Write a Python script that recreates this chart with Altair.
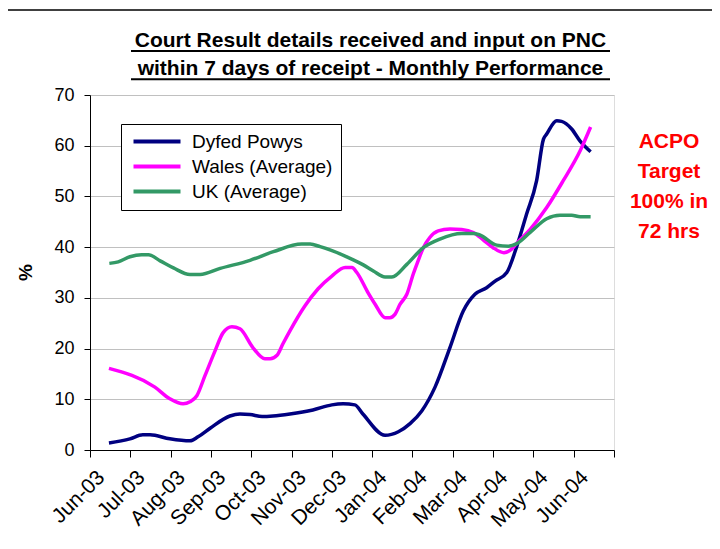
import json
import altair as alt
import pandas as pd

# ---------------- data ----------------
month_labels = ["Jun-03", "Jul-03", "Aug-03", "Sep-03", "Oct-03", "Nov-03", "Dec-03",
                "Jan-04", "Feb-04", "Mar-04", "Apr-04", "May-04", "Jun-04"]

series_names = ["Dyfed Powys", "Wales (Average)", "UK (Average)"]
series_colors = ["#000080", "#FF00FF", "#339966"]

# x = months since 1 Jun 2003, y = %
dp_x = [0.47, 0.99, 1.31, 1.49, 1.98, 2.48, 2.68, 2.98, 3.47, 3.72, 3.97, 4.27, 4.54, 4.96,
        5.53, 6.00, 6.28, 6.57, 6.77, 7.32, 7.65, 7.94, 8.23, 8.56, 8.93, 9.26, 9.55, 9.84,
        10.05, 10.34, 10.59, 10.83, 11.08, 11.25, 11.33, 11.58, 11.70, 11.95, 12.16, 12.42]
dp_y = [1.4, 2.2, 3.0, 3.0, 2.2, 1.8, 2.6, 4.3, 6.7, 7.1, 7.0, 6.6, 6.7, 7.1,
        7.9, 8.9, 9.1, 8.9, 7.1, 2.9, 3.6, 5.2, 7.7, 12.4, 20.2, 27.4, 30.7, 32.0,
        33.3, 35.0, 40.2, 46.5, 53.1, 61.3, 62.3, 64.9, 64.8, 63.3, 60.9, 58.8]

wales_x = [0.47, 1.61, 1.98, 2.31, 2.48, 2.65, 2.85, 3.10, 3.30, 3.52, 3.72, 4.04, 4.34, 4.47,
           4.64, 4.79, 4.96, 5.33, 5.66, 6.00, 6.33, 6.50, 6.62, 6.90, 7.07, 7.32, 7.44, 7.57,
           7.69, 7.86, 8.02, 8.14, 8.27, 8.43, 8.64, 8.93, 9.22, 9.51, 9.76, 10.00, 10.27,
           10.46, 10.59, 10.92, 11.33, 11.74, 12.16, 12.42]
wales_y = [16.1, 12.4, 10.1, 9.1, 9.5, 10.7, 14.6, 19.5, 23.1, 24.3, 23.9, 20.2, 18.0, 18.0,
           18.7, 21.0, 23.5, 28.4, 31.8, 34.3, 36.0, 36.0, 35.0, 31.0, 28.8, 26.1, 26.1, 26.8,
           28.7, 30.7, 34.7, 37.3, 39.9, 41.9, 43.2, 43.6, 43.5, 42.9, 41.4, 39.9, 38.9,
           39.6, 40.8, 43.5, 47.8, 53.1, 59.0, 63.7]

uk_x = [0.48, 0.70, 0.99, 1.28, 1.45, 1.74, 2.07, 2.48, 2.73, 3.23, 3.97, 4.55, 5.25, 5.46,
        5.71, 6.37, 6.78, 7.03, 7.32, 7.49, 7.86, 8.27, 8.68, 9.22, 9.51, 9.67, 10.09, 10.38,
        10.59, 10.92, 11.33, 11.66, 11.95, 12.16, 12.42]
uk_y = [36.8, 37.1, 38.1, 38.5, 38.5, 37.3, 35.9, 34.6, 34.6, 35.8, 37.4, 39.1, 40.6, 40.6,
        40.1, 38.1, 36.5, 35.3, 34.1, 34.1, 36.6, 39.9, 41.6, 42.7, 42.7, 42.4, 40.4, 40.2,
        40.7, 42.9, 45.6, 46.3, 46.3, 46.0, 46.0]

title_lines = ["Court Result details received and input on PNC",
               "within 7 days of receipt - Monthly Performance"]
note_lines = ["ACPO", "Target", "100% in", "72 hrs"]

# ---------------- build table ----------------
rows = []
for name, xs, ys in zip(series_names, [dp_x, wales_x, uk_x], [dp_y, wales_y, uk_y]):
    for i, (xv, yv) in enumerate(zip(xs, ys)):
        rows.append({"series": name, "month": xv, "pct": yv, "order": i})
df = pd.DataFrame(rows)
one = pd.DataFrame({"k": [0]})

FONT = "Liberation Sans"
W, H = 524, 355

label_expr = "datum.value < %d ? %s[datum.value] : ''" % (len(month_labels), json.dumps(month_labels))

lines = alt.Chart(df).mark_line(strokeWidth=3.5, interpolate="monotone").encode(
    x=alt.X("month:Q",
            scale=alt.Scale(domain=[0, len(month_labels)], nice=False, zero=False),
            axis=alt.Axis(values=list(range(len(month_labels) + 1)), labelExpr=label_expr,
                          labelAngle=315, labelAlign="right", labelBaseline="middle",
                          labelFontSize=21, labelFont=FONT, labelColor="#000000",
                          labelOverlap=False, labelFlush=False, labelPadding=17, labelOffset=11,
                          tickSize=7, tickColor="#000000", domainColor="#000000",
                          grid=False, title=None)),
    y=alt.Y("pct:Q",
            scale=alt.Scale(domain=[0, 70], nice=False),
            axis=alt.Axis(values=list(range(0, 71, 10)), labelFontSize=18, labelFont=FONT,
                          labelColor="#000000", labelPadding=10, tickSize=6,
                          tickColor="#000000", domainColor="#000000",
                          grid=True, gridColor="#c0c0c0",
                          title="%", titleFont=FONT, titleFontSize=19, titleFontWeight="bold",
                          titleAngle=270, titleX=-65, titleY=177, titleAlign="center",
                          titleBaseline="middle", titleColor="#000000")),
    color=alt.Color("series:N",
                    scale=alt.Scale(domain=series_names, range=series_colors),
                    legend=alt.Legend(title=None, orient="none", legendX=31, legendY=29,
                                      direction="vertical", fillColor="#ffffff",
                                      strokeColor="#000000", padding=8,
                                      labelFont=FONT, labelFontSize=19, labelColor="#000000",
                                      symbolType="M-1,0L8.4,0", symbolSize=100,
                                      symbolStrokeWidth=4, labelOffset=44, rowPadding=5)),
    order="order:Q",
)

title = alt.Chart(one).mark_text(
    text="\n".join(title_lines), lineBreak="\n", lineHeight=28, font=FONT, fontSize=21,
    fontWeight="bold", align="center", baseline="alphabetic", color="#000000",
).encode(x=alt.value(280.5), y=alt.value(-48.3))

underline1 = alt.Chart(one).mark_rule(color="#000000", strokeWidth=2).encode(
    x=alt.value(41), x2=alt.value(520), y=alt.value(-44))
underline2 = alt.Chart(one).mark_rule(color="#000000", strokeWidth=2).encode(
    x=alt.value(41), x2=alt.value(520), y=alt.value(-15.7))

note = alt.Chart(one).mark_text(
    text="\n".join(note_lines), lineBreak="\n", lineHeight=30, font=FONT, fontSize=21,
    fontWeight="bold", align="center", baseline="alphabetic", color="#FF0000",
).encode(x=alt.value(579), y=alt.value(53.3))

border_left = alt.Chart(one).mark_rule(color="#000000", strokeWidth=1.5).encode(
    x=alt.value(-83), y=alt.value(-85), y2=alt.value(470))
border_top = alt.Chart(one).mark_rule(color="#000000", strokeWidth=1.5).encode(
    x=alt.value(-83), x2=alt.value(640), y=alt.value(-85))

chart = alt.layer(lines, title, underline1, underline2, note, border_left, border_top).properties(
    width=W, height=H,
    autosize=alt.AutoSizeParams(type="none"),
    padding={"left": 82, "top": 87, "right": 98, "bottom": 91},
).configure_view(stroke="#808080", strokeWidth=1.5).configure(background="#ffffff")

chart.save("out.html", embed_options={"renderer": "svg", "actions": False})
